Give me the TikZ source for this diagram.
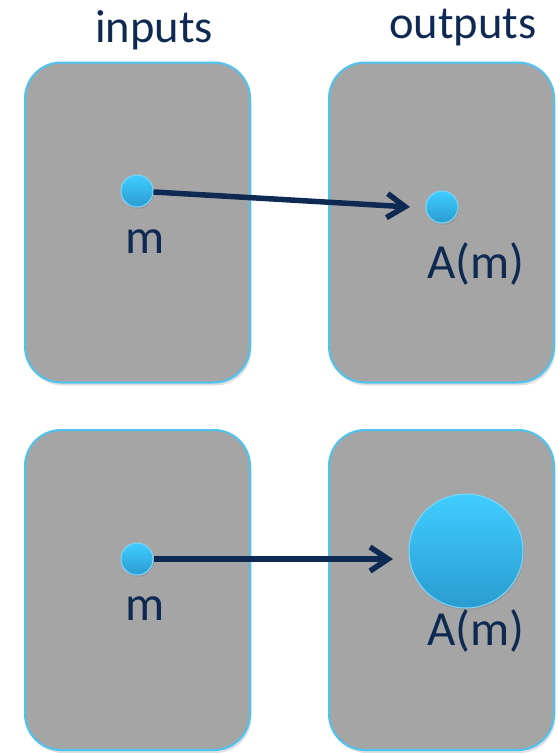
\documentclass[tikz,border=0pt]{standalone}
\usepackage{fontspec}
\setmainfont{Carlito}
\usetikzlibrary{arrows.meta,shadows}
\definecolor{boxgray}{HTML}{A5A5A5}
\definecolor{boxedge}{HTML}{4EC3F0}
\definecolor{navy}{HTML}{0E2A52}
\definecolor{dottop}{HTML}{40CDFF}
\definecolor{dotbot}{HTML}{2A9CCF}
\definecolor{dotedge}{HTML}{7AD8FF}
\begin{document}
\begin{tikzpicture}[x=1pt,y=-1pt,
  panel/.style={draw=boxedge, line width=2pt, fill=boxgray, rounded corners=36pt,
    minimum width=225pt, minimum height=320pt, inner sep=0pt,
    drop shadow={shadow xshift=1.5pt, shadow yshift=-3pt, opacity=0.25}},
  dot/.style={circle, inner sep=0pt, minimum size=32pt, top color=dottop, bottom color=dotbot,
    draw=dotedge, line width=1pt,
    drop shadow={shadow xshift=1pt, shadow yshift=-2pt, opacity=0.3}},
  bigdot/.style={dot, minimum size=114pt},
  lab/.style={anchor=base, inner sep=0pt, text=navy, font=\fontsize{49}{58}\selectfont},
  title/.style={lab, font=\fontsize{46.5}{56}\selectfont},
  arr/.style={draw=navy, line width=5.5pt, -{Straight Barb[length=18pt,width=24pt]}}
]
\useasboundingbox (0,0) rectangle (558,753);
% titles
\node[title] (tin) at (154,42) {inputs};
\node[title] (tout) at (463,38) {outputs};
% panels
\node[panel] (p1) at (137.5,222.5) {};
\node[panel] (p2) at (441.5,222.5) {};
\node[panel] (p3) at (137.5,590) {};
\node[panel] (p4) at (441.5,590) {};
% top row
\node[dot] (d1) at (137,191) {};
\node[dot] (d2) at (442,207) {};
\coordinate (t1) at (410,207);
\draw[arr] (d1) -- (t1);
\node[lab] (m1) at (145,253) {m};
\node[lab] (a1) at (476,278) {A(m)};
% bottom row
\node[dot] (d3) at (137,559) {};
\node[bigdot] (d4) at (466,551) {};
\coordinate (t2) at (393,559);
\draw[arr] (d3) -- (t2);
\node[lab] (m2) at (145,620) {m};
\node[lab] (a2) at (476,645) {A(m)};
\end{tikzpicture}
\end{document}
